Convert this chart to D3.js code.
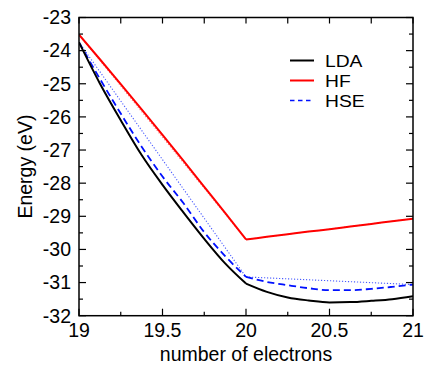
<!DOCTYPE html>
<html>
<head>
<meta charset="utf-8">
<script src="https://cdn.jsdelivr.net/npm/d3@7"></script>
<style>
  html, body { margin: 0; padding: 0; background: #fff; }
  svg { display: block; }
  text { font-family: "Liberation Sans", Arial, Helvetica, sans-serif; fill: #000; }
</style>
</head>
<body>
<svg id="chart" width="427" height="366"></svg>
<script>
// Number of electrons sampled along each curve
const electrons = [19, 19.125, 19.25, 19.375, 19.5, 19.625, 19.75, 19.875, 20,
                   20.125, 20.25, 20.375, 20.5, 20.625, 20.75, 20.875, 21];

// Total energies (eV)
const ldaEnergy = [-23.75, -24.99, -26.10, -27.15, -28.05, -28.88, -29.68, -30.42, -31.03,
                   -31.28, -31.45, -31.54, -31.60, -31.59, -31.55, -31.50, -31.41];
const hfEnergy  = [-23.52, -24.26, -25.01, -25.77, -26.54, -27.32, -28.11, -28.90, -29.70,
                   -29.62, -29.54, -29.46, -29.39, -29.31, -29.23, -29.15, -29.07];
const hseEnergy = [-23.75, -24.85, -25.90, -26.90, -27.80, -28.60, -29.48, -30.20, -30.83,
                   -30.98, -31.08, -31.17, -31.23, -31.23, -31.19, -31.13, -31.06];

// Straight connections between the integer electron numbers
const integerElectrons = [19, 20, 21];
const hfInteger  = [-23.52, -29.70, -29.07];
const hseInteger = [-23.75, -30.83, -31.06];

// Axis ticks
const xTickValues = [19, 19.5, 20, 20.5, 21];
const yTickValues = [-23, -24, -25, -26, -27, -28, -29, -30, -31, -32];

const legendNames = ["LDA", "HF", "HSE"];

const svg = d3.select("#chart");
const pL = 79, pR = 413, pT = 17.5, pB = 315.7;
const fontSize = 19.5;
const legendFontSize = 17.2;

const x = d3.scaleLinear().domain([19, 21]).range([pL, pR]);
const y = d3.scaleLinear().domain([-32, -23]).range([pB, pT]);

// Clip to the frame
svg.append("defs").append("clipPath").attr("id", "frame")
  .append("rect").attr("x", pL).attr("y", pT)
  .attr("width", pR - pL).attr("height", pB - pT);
const plot = svg.append("g").attr("clip-path", "url(#frame)");

const line = d3.line().x(d => x(d[0])).y(d => y(d[1])).curve(d3.curveMonotoneX);
const straight = d3.line().x(d => x(d[0])).y(d => y(d[1]));

function pieces(xs, ys) {
  const pts = xs.map((v, i) => [v, ys[i]]);
  return [pts.filter(p => p[0] <= 20), pts.filter(p => p[0] >= 20)];
}

function drawCurve(ys, style) {
  const segs = pieces(electrons, ys);
  const d = segs.map(s => line(s)).join("");
  plot.append("path").attr("d", d).attr("fill", "none")
    .attr("stroke", style.color).attr("stroke-width", style.width)
    .attr("stroke-dasharray", style.dash || null)
    .attr("stroke-linejoin", "round");
}

// Straight reference lines (dotted)
plot.append("path")
  .attr("d", straight(integerElectrons.map((v, i) => [v, hfInteger[i]])))
  .attr("fill", "none").attr("stroke", "#ff7a7a").attr("stroke-width", 1.1)
  .attr("stroke-dasharray", "1.2,1.8");
plot.append("path")
  .attr("d", straight(integerElectrons.map((v, i) => [v, hseInteger[i]])))
  .attr("fill", "none").attr("stroke", "#4a5cff").attr("stroke-width", 1.1)
  .attr("stroke-dasharray", "1.2,1.8");

drawCurve(hfEnergy,  { color: "#ff0000", width: 2 });
drawCurve(hseEnergy, { color: "#0010ff", width: 1.8, dash: "7,4" });
drawCurve(ldaEnergy, { color: "#000000", width: 2 });

// Ticks on all four sides, pointing inward
const axisG = svg.append("g").attr("stroke", "#000").attr("stroke-width", 1.2);
const xMinor = [19.25, 19.75, 20.25, 20.75];
xTickValues.concat(xMinor).forEach(v => {
  const major = xTickValues.includes(v);
  axisG.append("line").attr("x1", x(v)).attr("x2", x(v))
    .attr("y1", pB).attr("y2", pB - (major ? 7 : 4));
  axisG.append("line").attr("x1", x(v)).attr("x2", x(v))
    .attr("y1", pT).attr("y2", pT + 6);
});
const yMinor = [-23.5, -24.5, -25.5, -26.5, -27.5, -28.5, -29.5, -30.5, -31.5];
yTickValues.concat(yMinor).forEach(v => {
  const major = yTickValues.includes(v);
  const len = major ? 7 : 4;
  axisG.append("line").attr("x1", pL).attr("x2", pL + len)
    .attr("y1", y(v)).attr("y2", y(v));
  axisG.append("line").attr("x1", pR).attr("x2", pR - len)
    .attr("y1", y(v)).attr("y2", y(v));
});

// Frame
svg.append("rect").attr("x", pL).attr("y", pT)
  .attr("width", pR - pL).attr("height", pB - pT)
  .attr("fill", "none").attr("stroke", "#000").attr("stroke-width", 1.5);

// Tick labels
svg.append("g").selectAll("text").data(xTickValues).join("text")
  .attr("x", d => x(d)).attr("y", 337)
  .attr("text-anchor", "middle").attr("font-size", fontSize)
  .text(d => String(d));
svg.append("g").selectAll("text").data(yTickValues).join("text")
  .attr("x", 71).attr("y", d => y(d) + 6.8)
  .attr("text-anchor", "end").attr("font-size", fontSize)
  .text(d => String(d));

// Axis titles
svg.append("text").attr("x", (pL + pR) / 2).attr("y", 361)
  .attr("text-anchor", "middle").attr("font-size", fontSize)
  .text("number of electrons");
svg.append("text")
  .attr("transform", `translate(31.5, ${(pT + pB) / 2}) rotate(-90)`)
  .attr("text-anchor", "middle").attr("font-size", fontSize)
  .text("Energy (eV)");

// Legend
const legendStyles = [
  { color: "#000000", width: 2, dash: null },
  { color: "#ff0000", width: 2, dash: null },
  { color: "#0010ff", width: 1.5, dash: "4.5,3.5" }
];
const legend = svg.append("g");
legendNames.forEach((name, i) => {
  const ly = 60.5 + i * 20;
  legend.append("line").attr("x1", 290).attr("x2", 314)
    .attr("y1", ly).attr("y2", ly)
    .attr("stroke", legendStyles[i].color).attr("stroke-width", legendStyles[i].width)
    .attr("stroke-dasharray", legendStyles[i].dash);
  legend.append("text").attr("x", 325).attr("y", ly + 6.2)
    .attr("font-size", legendFontSize)
    .attr("transform", `translate(325, 0) scale(1.12, 1) translate(-325, 0)`)
    .text(name);
});
</script>
</body>
</html>
